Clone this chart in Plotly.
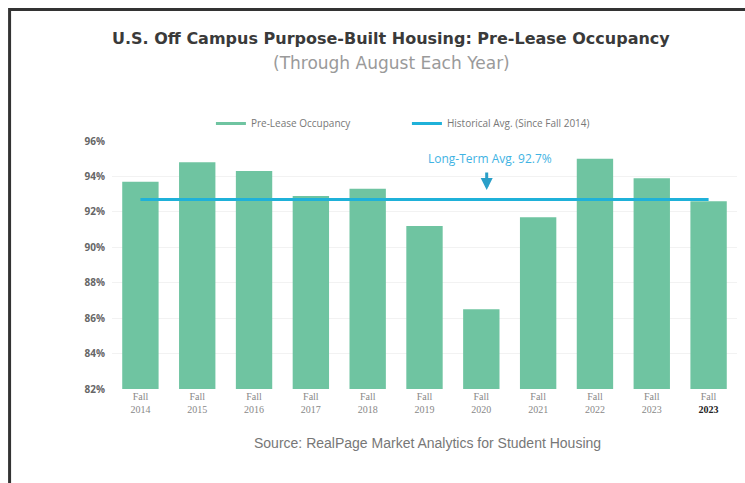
import plotly.graph_objects as go

categories = ["Fall<br>2014", "Fall<br>2015", "Fall<br>2016", "Fall<br>2017", "Fall<br>2018",
              "Fall<br>2019", "Fall<br>2020", "Fall<br>2021", "Fall<br>2022", "Fall<br>2023",
              "Fall<br><b><span style='color:#222'>2023</span></b>"]
occupancy = [93.7, 94.8, 94.3, 92.9, 93.3, 91.2, 86.5, 91.7, 95.0, 93.9, 92.6]
hist_avg = [92.7] * len(categories)
y_ticks = [82, 84, 86, 88, 90, 92, 94, 96]
y_tick_labels = ["82%", "84%", "86%", "88%", "90%", "92%", "94%", "96%"]

GREEN = "#6fc4a1"
BLUE = "#1fb1d9"

W, H = 745, 483
# plot area in page pixels: left 112, right 737.5, top 141, bottom 389
ML, MR, MT, MB = 112, W - 737.5, 141, H - 389
pw = W - ML - MR
ph = H - MT - MB

def px_x(px):
    return (px - ML) / pw

def px_y(py):
    return (H - MB - py) / ph

fig = go.Figure()
fig.add_trace(go.Bar(x=categories, y=occupancy, marker=dict(color=GREEN, line=dict(width=0)),
                     showlegend=False, width=0.64))
fig.add_trace(go.Scatter(x=categories, y=hist_avg, mode="lines",
                         line=dict(color=BLUE, width=3), showlegend=False))
# legend entries (line style keys)
fig.add_trace(go.Scatter(x=[None], y=[None], mode="lines", name="Pre-Lease Occupancy",
                         line=dict(color=GREEN, width=3)))
fig.add_trace(go.Scatter(x=[None], y=[None], mode="lines", name="Historical Avg. (Since Fall 2014)",
                         line=dict(color=BLUE, width=3)))

fig.update_layout(
    width=W, height=H,
    margin=dict(l=ML, r=MR, t=MT, b=MB, pad=0),
    paper_bgcolor="white", plot_bgcolor="white",
    font=dict(family="Open Sans", color="#666"),
    bargap=0.36,
    legend=dict(orientation="h", x=px_x(211), xanchor="left", y=px_y(109), yanchor="top",
                font=dict(size=10, color="#777"), entrywidth=151, entrywidthmode="pixels",
                itemwidth=30, bgcolor="rgba(0,0,0,0)"),
    xaxis=dict(type="category", showgrid=False, showline=False, ticks="",
               tickfont=dict(family="Liberation Serif", size=10, color="#888"),
               range=[-0.5, 10.5]),
    yaxis=dict(range=[82, 96], tickvals=y_ticks, ticktext=y_tick_labels,
               showgrid=True, gridcolor="#f2f2f2", zeroline=False, showline=False,
               tickfont=dict(family="Open Sans", size=10, color="#666", weight="bold"),
               ticklabelstandoff=6),
)

annotations = [
    dict(text="<b>U.S. Off Campus Purpose-Built Housing: Pre-Lease Occupancy</b>",
         xref="paper", yref="paper", x=px_x(391), y=px_y(39), xanchor="center", yanchor="middle",
         showarrow=False, font=dict(family="DejaVu Sans", size=16, color="#3a3a3a")),
    dict(text="(Through August Each Year)",
         xref="paper", yref="paper", x=px_x(392), y=px_y(63), xanchor="center", yanchor="middle",
         showarrow=False, font=dict(family="DejaVu Sans", size=17, color="#9a9a9a")),
    dict(text="Long-Term Avg. 92.7%", xref="paper", yref="paper", x=px_x(490), y=px_y(158),
         xanchor="center", yanchor="middle", showarrow=False,
         font=dict(family="Open Sans", size=12, color="#3fb3e3")),
    dict(text="", xref="paper", yref="paper", x=px_x(487), y=px_y(190), ax=0, ay=-19,
         showarrow=True, arrowhead=2, arrowsize=0.8, arrowwidth=3,
         arrowcolor="#2a9fc8"),
    dict(text="Source: RealPage Market Analytics for Student Housing",
         xref="paper", yref="paper", x=px_x(428), y=px_y(443), xanchor="center", yanchor="middle",
         showarrow=False, font=dict(family="Liberation Sans", size=14, color="#777")),
]
fig.update_layout(annotations=annotations)

# open frame: left edge and top edge only
frame_path = "M {:.5f},{:.5f} L {:.5f},{:.5f} L {:.5f},{:.5f}".format(
    px_x(9.5), px_y(490), px_x(9.5), px_y(9.5), px_x(760), px_y(9.5))
fig.update_layout(shapes=[dict(type="path", xref="paper", yref="paper", path=frame_path,
                               line=dict(color="#333", width=3), fillcolor="rgba(0,0,0,0)")])

fig.write_html("out.html", config={"displayModeBar": False},
               post_script="document.body.style.margin='0';document.body.style.overflow='hidden';"
                           "document.documentElement.style.overflow='hidden';")
